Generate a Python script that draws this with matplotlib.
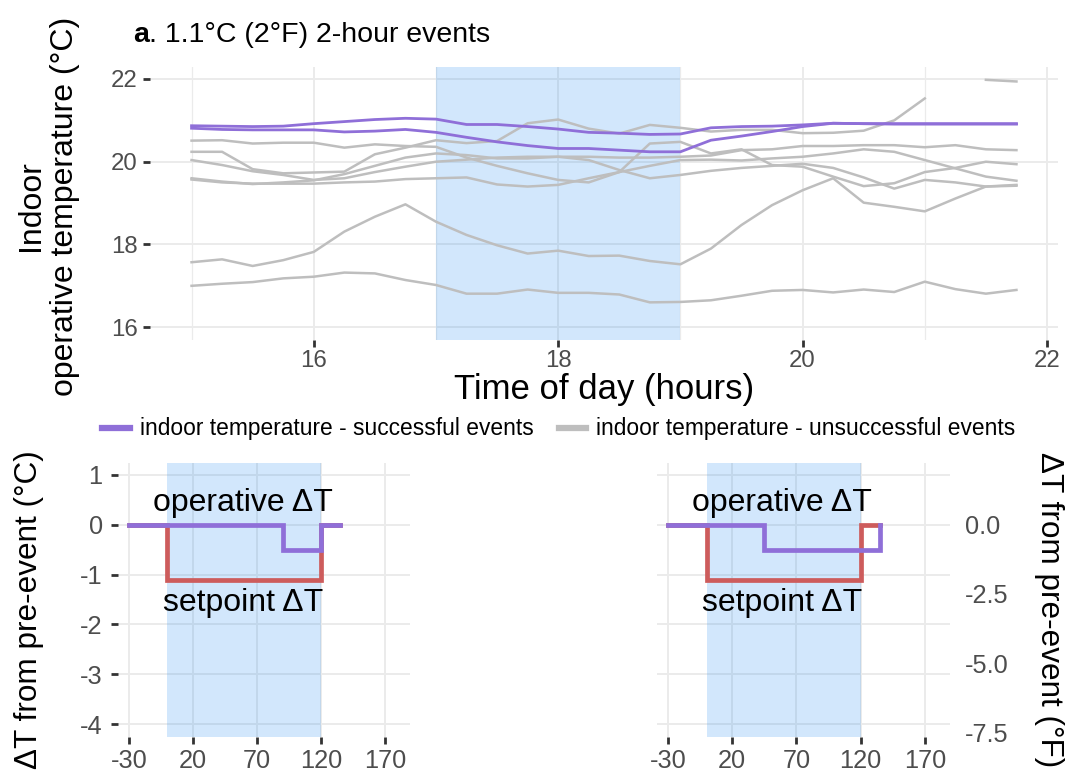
"""
Demand-response event: indoor operative temperature and pre-event deltas.
"""

import numpy as np
import matplotlib
matplotlib.use("Agg")
import matplotlib.pyplot as plt
from matplotlib.lines import Line2D

plt.rcParams['font.family'] = ['Liberation Sans', 'DejaVu Sans']
plt.rcParams['axes.unicode_minus'] = False

# ===== data: top panel (15-min samples) =====
hours = [15.00, 15.25, 15.50, 15.75, 16.00, 16.25, 16.50, 16.75, 17.00, 17.25,
         17.50, 17.75, 18.00, 18.25, 18.50, 18.75, 19.00, 19.25, 19.50, 19.75,
         20.00, 20.25, 20.50, 20.75, 21.00, 21.25, 21.50, 21.75]
nan = np.nan

success_1 = [20.87, 20.86, 20.85, 20.86, 20.92, 20.97, 21.02, 21.05, 21.03, 20.90,
             20.90, 20.85, 20.79, 20.71, 20.69, 20.66, 20.67, 20.82, 20.85, 20.86,
             20.89, 20.93, 20.92, 20.91, 20.91, 20.91, 20.91, 20.91]
success_2 = [20.81, 20.78, 20.77, 20.77, 20.77, 20.72, 20.74, 20.78, 20.71, 20.59,
             20.48, 20.39, 20.32, 20.32, 20.28, 20.24, 20.24, 20.52, 20.62, 20.73,
             20.85, 20.93, 20.92, 20.92, 20.92, 20.92, 20.92, 20.92]

fail_a = [20.24, 20.24, 19.82, 19.72, 19.74, 19.76, 20.18, 20.34, 20.52, 20.45,
          20.50, 20.93, 21.02, 20.80, 20.68, 20.89, 20.82, 20.73, 20.77, 20.77,
          20.69, 20.70, 20.75, 21.00, 21.53, nan, nan, nan]
fail_b = [20.04, 19.92, 19.77, 19.68, 19.56, 19.60, 19.75, 19.88, 20.00, 20.05,
          20.10, 20.12, 20.12, 20.12, 20.10, 20.10, 20.12, 20.15, 20.28, 20.30,
          20.38, 20.38, 20.40, 20.40, 20.35, 20.40, 20.30, 20.28]
fail_c = [19.57, 19.50, 19.47, 19.47, 19.47, 19.50, 19.52, 19.58, 19.60, 19.62,
          19.45, 19.40, 19.44, 19.60, 19.75, 19.90, 20.04, 20.05, 20.03, 20.08,
          20.12, 20.20, 20.30, 20.24, 20.04, 19.84, 19.64, 19.54]
fail_d = [20.51, 20.52, 20.44, 20.46, 20.46, 20.34, 20.42, 20.38, 20.36, 20.10,
          19.90, 19.72, 19.56, 19.50, 19.75, 20.44, 20.48, 20.20, 20.30, 19.92,
          19.88, 19.64, 19.41, 19.48, 19.75, 19.85, 20.00, 19.94]
fail_e = [19.60, 19.52, 19.46, 19.50, 19.55, 19.70, 19.90, 20.10, 20.20, 20.16,
          20.08, 20.08, 20.12, 20.04, 19.80, 19.60, 19.68, 19.78, 19.85, 19.90,
          19.95, 19.85, 19.62, 19.35, 19.56, 19.50, 19.40, 19.42]
fail_f = [17.57, 17.64, 17.48, 17.62, 17.82, 18.31, 18.67, 18.97, 18.55, 18.23,
          17.98, 17.78, 17.85, 17.72, 17.73, 17.60, 17.52, 17.90, 18.47, 18.95,
          19.31, 19.60, 19.01, 18.91, 18.80, 19.11, 19.40, 19.44]
fail_g = [17.00, 17.05, 17.09, 17.18, 17.22, 17.32, 17.30, 17.14, 17.02, 16.81,
          16.81, 16.91, 16.83, 16.83, 16.79, 16.60, 16.61, 16.65, 16.76, 16.88,
          16.90, 16.84, 16.91, 16.85, 17.10, 16.92, 16.81, 16.90]
fail_h = [nan] * 26 + [21.98, 21.94]

event_start, event_end = 17.0, 19.0

# ===== data: bottom panels (minutes from event start) =====
minutes = [-30, -15, 0, 15, 30, 45, 60, 75, 90, 105, 120, 135]
setpoint_dt = [0, 0, -1.11, -1.11, -1.11, -1.11, -1.11, -1.11, -1.11, -1.11, 0, 0]
operative_dt_left = [0, 0, 0, 0, 0, 0, 0, 0, -0.5, -0.5, 0, 0]
operative_dt_right = [0, 0, 0, 0, 0, -0.5, -0.5, -0.5, -0.5, -0.5, -0.5, 0]
event_min = (0, 120)

# ===== styles =====
PURPLE = "#8f6fd8"
GRAY = "#bebebe"
RED = "#cd5c5c"
SHADE = "#1e88f0"
GRID = "#ebebeb"
TICKTXT = "#4d4d4d"

W, H = 1066, 778
fig = plt.figure(figsize=(W / 100, H / 100), dpi=100)


def px_axes(left, top, right, bottom):
    return fig.add_axes([left / W, 1 - bottom / H, (right - left) / W, (bottom - top) / H])


def style_axes(ax, labelsize):
    for s in ax.spines.values():
        s.set_visible(False)
    ax.set_axisbelow(True)
    ax.grid(True, which="major", color=GRID, lw=1.4)
    ax.tick_params(which="major", direction="out", length=5, width=2,
                   color="#333333", labelcolor=TICKTXT, labelsize=labelsize)


# --------------------------------------------------
# Top panel
# --------------------------------------------------
ax = px_axes(150, 67, 1058, 340)
style_axes(ax, 17.3)
ax.tick_params(axis="y", pad=4)
ax.tick_params(axis="x", pad=2)
ax.set_xticks([16, 18, 20, 22])
ax.set_xticks([15, 17, 19, 21], minor=True)
ax.tick_params(which="minor", length=0)
ax.grid(True, which="minor", axis="x", color=GRID, lw=0.9)
ax.set_yticks([16, 18, 20, 22])
ax.set_xlim(14.66, 22.09)
ax.set_ylim(15.69, 22.29)
ax.axvspan(event_start, event_end, color=SHADE, alpha=0.2, lw=0, zorder=1)

for ys in [fail_a, fail_b, fail_c, fail_d, fail_e, fail_f, fail_g, fail_h]:
    ax.plot(hours, ys, color=GRAY, lw=1.8, zorder=2)
for ys in [success_1, success_2]:
    ax.plot(hours, ys, color=PURPLE, lw=2.0, zorder=3)

ax.set_xlabel("Time of day (hours)", fontsize=25)
ax.xaxis.set_label_coords(0.5, -0.12)
fig.text(48 / W, 1 - 206 / H, "Indoor\noperative temperature (°C)", fontsize=23,
         rotation=90, ha="center", va="center", multialignment="center")

t1 = fig.text(133 / W, 1 - 48 / H, "a", fontsize=20.5, weight="bold", va="bottom")
ax.annotate(". 1.1°C (2°F) 2-hour events", xy=(1, 0), xycoords=t1,
            fontsize=20.5, va="bottom", ha="left", annotation_clip=False)

handles = [Line2D([], [], color=PURPLE, lw=4.5),
           Line2D([], [], color=GRAY, lw=4.5)]
fig.legend(handles, ["indoor temperature - successful events",
                     "indoor temperature - unsuccessful events"],
           loc="center", bbox_to_anchor=(559 / W, 1 - 429 / H), ncol=2,
           frameon=False, fontsize=16.4, handlelength=1.2, handletextpad=0.45,
           columnspacing=1.1)


# --------------------------------------------------
# Bottom panels
# --------------------------------------------------
def delta_panel(left, right, operative):
    axb = px_axes(left, 463, right, 737)
    style_axes(axb, 18.3)
    axb.tick_params(axis="y", pad=6)
    axb.set_xticks([-30, 20, 70, 120, 170])
    axb.set_yticks([1, 0, -1, -2, -3, -4])
    axb.set_xlim(-38.6, 189.5)
    axb.set_ylim(-4.26, 1.24)
    axb.axvspan(*event_min, color=SHADE, alpha=0.2, lw=0, zorder=1)
    axb.plot(minutes, setpoint_dt, color=RED, lw=3.4, drawstyle="steps-post",
             solid_joinstyle="miter", zorder=2)
    axb.plot(minutes, operative, color=PURPLE, lw=3.4, drawstyle="steps-post",
             solid_joinstyle="miter", zorder=3)
    axb.text(59, 0.44, "operative ΔT", fontsize=23, ha="center", va="center")
    axb.text(59, -1.57, "setpoint ΔT", fontsize=23, ha="center", va="center")
    return axb


axl = delta_panel(118, 410, operative_dt_left)
fig.text(29 / W, 1 - 610 / H, "ΔT from pre-event (°C)", fontsize=22.7,
         rotation=90, ha="center", va="center")

axr = delta_panel(657, 950, operative_dt_right)
axr.tick_params(axis="y", length=0, labelleft=False)
sec = axr.secondary_yaxis("right", functions=(lambda c: c * 1.8, lambda f: f / 1.8))
sec.set_yticks([0.0, -2.5, -5.0, -7.5])
sec.set_yticklabels(["0.0", "-2.5", "-5.0", "-7.5"])
sec.tick_params(length=0, pad=11, labelsize=18.3, labelcolor=TICKTXT)
for s in sec.spines.values():
    s.set_visible(False)
fig.text(1049 / W, 1 - 610 / H, "ΔT from pre-event (°F)", fontsize=22.7,
         rotation=270, ha="center", va="center")

fig.savefig("out.png", dpi=100)
